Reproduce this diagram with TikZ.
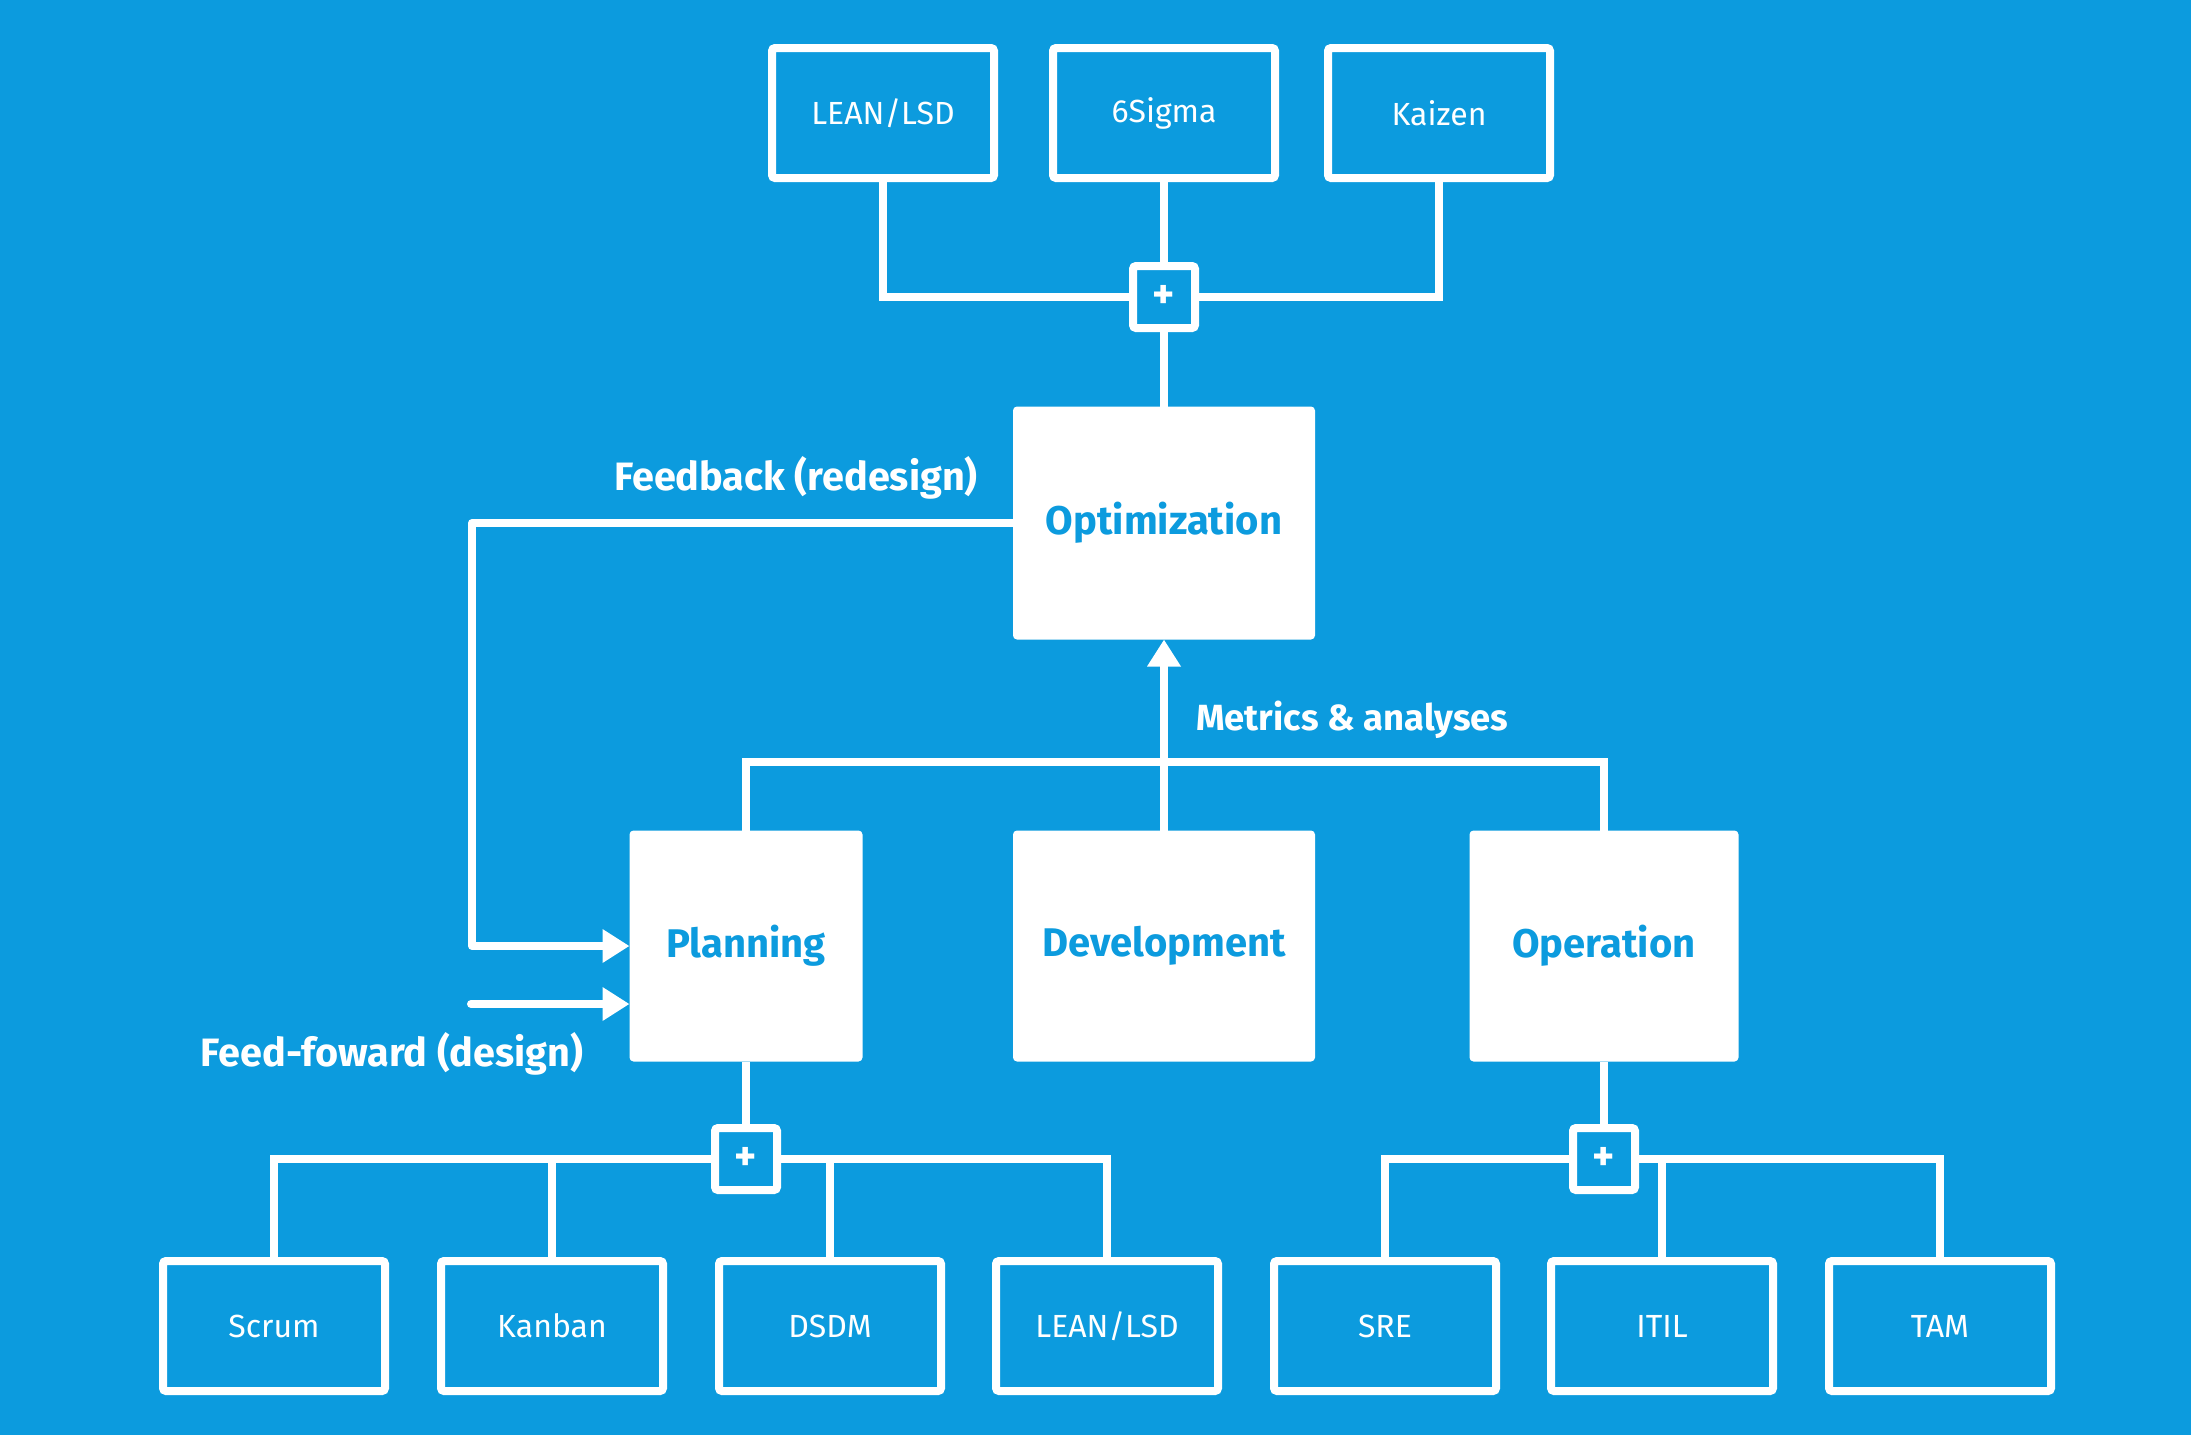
\documentclass[tikz,border=0pt]{standalone}
\usepackage{fontspec}
\setmainfont{Fira Sans}
\usetikzlibrary{arrows.meta}
\definecolor{bgblue}{RGB}{12,155,222}

\begin{document}
\begin{tikzpicture}[x=0.5pt,y=-0.5pt,
		line width=4pt,
		phase/.style={fill=white, rounded corners=2pt, text=bgblue, font=\fontsize{20}{24}\selectfont\bfseries, inner sep=0pt, outer sep=0pt},
		method/.style={draw=white, rounded corners=1.5pt, text=white, font=\fontsize{16}{20}\selectfont, minimum width=111pt, minimum height=65pt, inner sep=0pt},
		plusbox/.style={draw=white, rounded corners=1.5pt, text=white, font=\fontsize{21}{24}\selectfont\bfseries, minimum size=31pt, inner sep=0pt},
		link/.style={draw=white, line width=4pt},
		arr/.style={link, -{Triangle[length=13.5pt,width=16pt]}},
		lbl/.style={text=white, font=\fontsize{19.8}{23}\selectfont\bfseries, inner sep=0pt}]
		\fill[bgblue] (0,0) rectangle (2191,1435);
		\useasboundingbox (0,0) rectangle (2191,1435);
		% top methods
		\node[method] (leantop) at (883,113) {LEAN/LSD};
		\node[method] (sigma) at (1164,113) {6Sigma};
		\node[method] (kaizen) at (1439,113) {Kaizen};
		\node[plusbox] (plustop) at (1164,297) {+};
		% phases
		\node[phase, minimum width=151pt, minimum height=116.5pt] (opt) at (1164,523) {Optimization};
		\node[phase, minimum width=116.5pt, minimum height=115.5pt] (plan) at (746,946) {Planning};
		\node[phase, minimum width=151pt, minimum height=115.5pt] (dev) at (1164,946) {Development};
		\node[phase, minimum width=134.5pt, minimum height=115.5pt] (oper) at (1604,946) {Operation};
		% bottom methods
		\node[plusbox] (plusplan) at (746,1159) {+};
		\node[plusbox] (plusoper) at (1604,1159) {+};
		\node[method] (scrum) at (274,1326) {Scrum};
		\node[method] (kanban) at (552,1326) {Kanban};
		\node[method] (dsdm) at (830,1326) {DSDM};
		\node[method] (leanbot) at (1107,1326) {LEAN/LSD};
		\node[method] (sre) at (1385,1326) {SRE};
		\node[method] (itil) at (1662,1326) {ITIL};
		\node[method] (tam) at (1940,1326) {TAM};
		% helper points
		\coordinate (metrics) at (1164,762);
		\coordinate (fbturn) at (472,700);
		\coordinate (ffstart) at (471,1004);
		% connectors
		\draw[link] (leantop.south) |- (plustop.west);
		\draw[link] (sigma.south) -- (plustop.north);
		\draw[link] (kaizen.south) |- (plustop.east);
		\draw[link] (plustop.south) -- (opt.north);
		\draw[arr] (dev.north) -- (opt.south);
		\draw[link] (plan.north) |- (metrics) -| (oper.north);
		\draw[arr, line join=round] (opt.west) -| (fbturn) |- (plan.west);
		\draw[arr, line cap=round] (ffstart) -- (ffstart -| plan.west);
		\draw[link] (plan.south) -- (plusplan.north);
		\draw[link] (plusplan.west) -| (scrum.north);
		\draw[link] (plusplan.east) -| (leanbot.north);
		\draw[link] (kanban.north) -- (kanban.north |- plusplan.west);
		\draw[link] (dsdm.north) -- (dsdm.north |- plusplan.east);
		\draw[link] (oper.south) -- (plusoper.north);
		\draw[link] (plusoper.west) -| (sre.north);
		\draw[link] (plusoper.east) -| (tam.north);
		\draw[link] (itil.north) -- (itil.north |- plusoper.east);
		% labels
		\node[lbl] (fblabel) at (796,478) {Feedback (redesign)};
		\node[lbl] (fflabel) at (392,1054) {Feed-foward (design)};
		\node[lbl, anchor=west, font=\fontsize{18.2}{22}\selectfont\bfseries] (mlabel) at (1192,720) {Metrics \& analyses};
	\end{tikzpicture}
\end{document}
